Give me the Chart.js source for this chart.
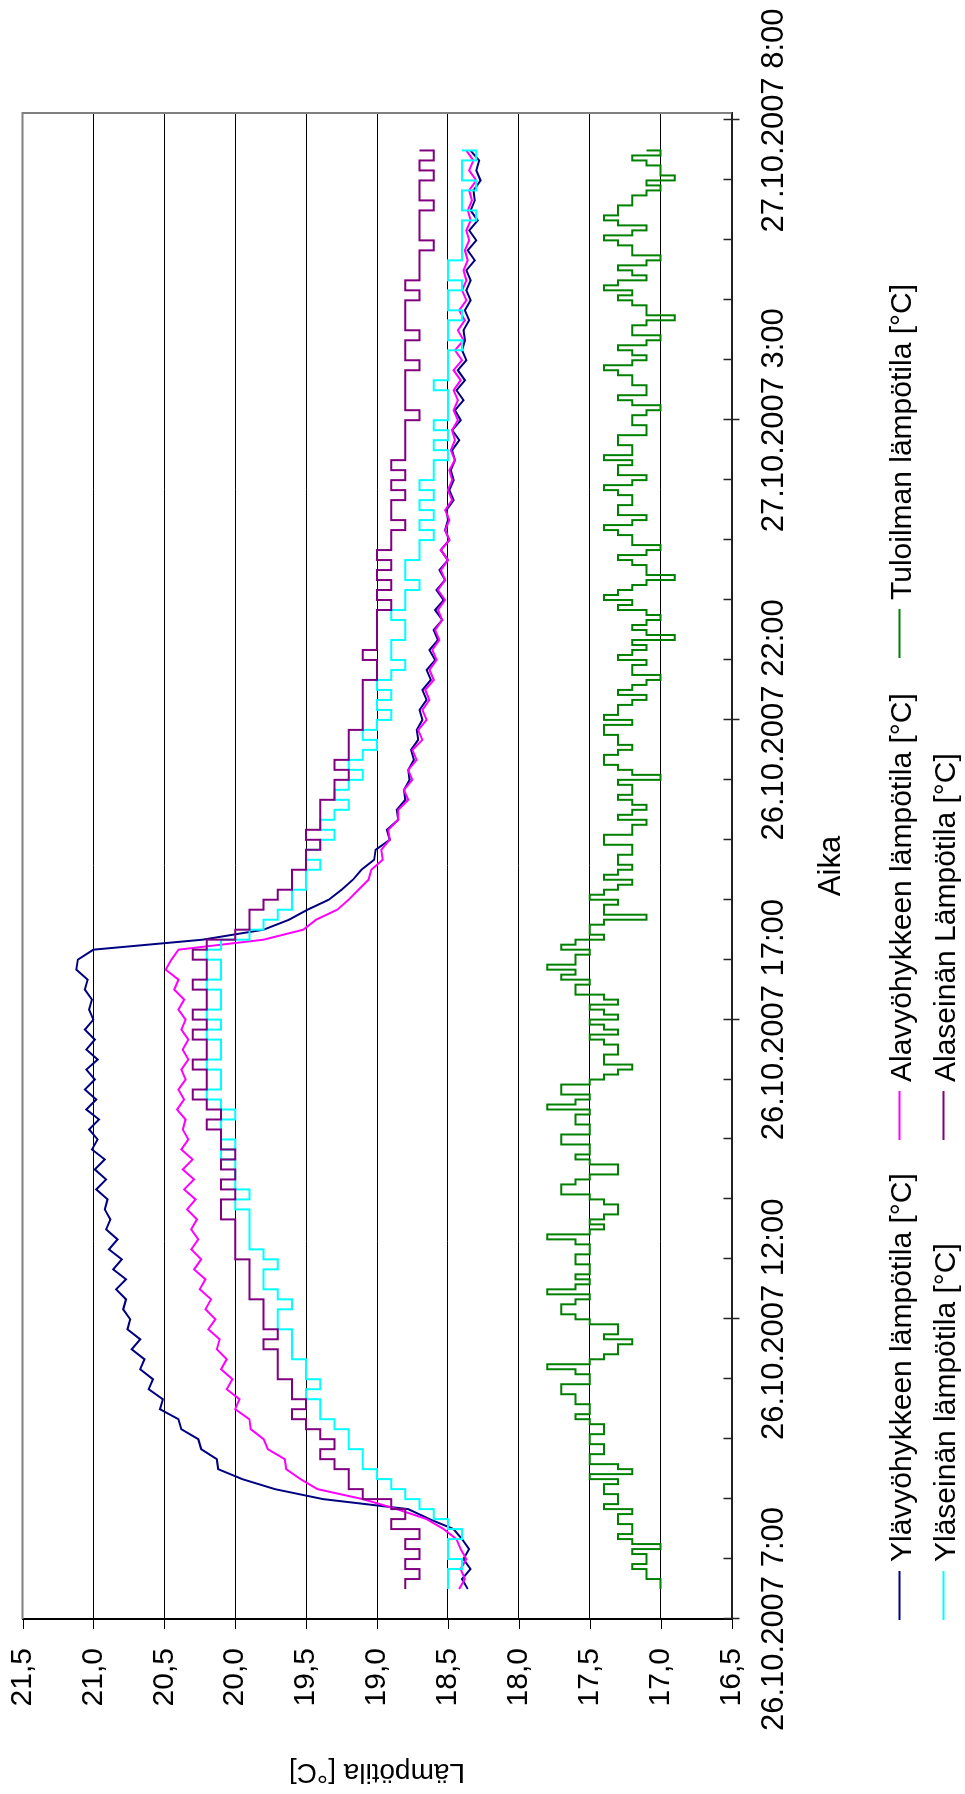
<!DOCTYPE html>
<html>
<head>
<meta charset="utf-8">
<script src="https://cdn.jsdelivr.net/npm/chart.js@4.4.1/dist/chart.umd.min.js"></script>
<style>
html, body { margin: 0; padding: 0; width: 965px; height: 1794px; overflow: hidden; background: #fff; }
/* chart is laid out landscape, then turned a quarter left to stand on the page */
#wrap { position: absolute; left: 0; top: 0; width: 1794px; height: 965px;
        transform-origin: 0 0; transform: translate(0, 1794px) rotate(-90deg); }
</style>
</head>
<body>
<div id="wrap"><canvas id="chart"></canvas></div>
<script>
// hours after 26.10.2007 7:00; readings start at 7:30
const firstHour = 0.5;

const timeLabels = ['26.10.2007 7:00', '26.10.2007 12:00', '26.10.2007 17:00',
                    '26.10.2007 22:00', '27.10.2007 3:00', '27.10.2007 8:00'];

const seriesNames = ['Ylävyöhykkeen lämpötila [°C]', 'Alavyöhykkeen lämpötila [°C]',
                     'Tuloilman lämpötila [°C]', 'Yläseinän lämpötila [°C]', 'Alaseinän Lämpötila [°C]'];
const seriesColors = ['#000080', '#ff00ff', '#008000', '#00ffff', '#800080'];

// every 10 minutes
const ylavyohyke = [
  18.36, 18.40, 18.34, 18.39, 18.35, 18.40,
  18.46, 18.63, 18.78, 19.38, 19.72, 19.95,
  20.12, 20.13, 20.24, 20.26, 20.38, 20.40,
  20.53, 20.51, 20.61, 20.58, 20.67, 20.64,
  20.73, 20.67, 20.76, 20.74, 20.79, 20.77,
  20.84, 20.77, 20.86, 20.80, 20.89, 20.83,
  20.91, 20.88, 20.92, 20.90, 20.98, 20.91,
  20.99, 20.92, 21.01, 20.97, 21.03, 20.96,
  21.05, 20.98, 21.06, 20.99, 21.05, 20.97,
  21.05, 20.99, 21.06, 21.00, 21.03, 21.01,
  21.06, 21.04, 21.12, 21.11, 21.00, 20.23,
  19.80, 19.62, 19.49, 19.34, 19.25, 19.17,
  19.11, 19.02, 19.01, 18.91, 18.93, 18.85,
  18.86, 18.80, 18.81, 18.77, 18.78, 18.74,
  18.76, 18.71, 18.72, 18.68, 18.70, 18.65,
  18.68, 18.62, 18.65, 18.59, 18.63, 18.57,
  18.60, 18.54, 18.59, 18.53, 18.58, 18.52,
  18.56, 18.50, 18.55, 18.49, 18.52, 18.50,
  18.51, 18.46, 18.49, 18.46, 18.48, 18.45,
  18.47, 18.42, 18.47, 18.41, 18.45, 18.39,
  18.44, 18.38, 18.43, 18.37, 18.40, 18.38,
  18.39, 18.35, 18.38, 18.34, 18.37, 18.34,
  18.37, 18.31, 18.36, 18.30, 18.35, 18.29,
  18.34, 18.31, 18.32, 18.27, 18.30, 18.28,
  18.34
];

// every 10 minutes
const alavyohyke = [
  18.42, 18.38, 18.41, 18.37, 18.41, 18.44,
  18.53, 18.65, 18.86, 19.10, 19.42, 19.54,
  19.64, 19.65, 19.77, 19.80, 19.89, 19.90,
  20.00, 19.97, 20.06, 20.02, 20.10, 20.06,
  20.13, 20.11, 20.19, 20.14, 20.21, 20.17,
  20.25, 20.21, 20.29, 20.24, 20.31, 20.26,
  20.31, 20.27, 20.34, 20.28, 20.36, 20.29,
  20.37, 20.30, 20.38, 20.33, 20.37, 20.35,
  20.41, 20.36, 20.40, 20.35, 20.38, 20.33,
  20.37, 20.33, 20.38, 20.35, 20.40, 20.36,
  20.43, 20.40, 20.49, 20.45, 20.40, 19.80,
  19.52, 19.43, 19.28, 19.20, 19.13, 19.06,
  19.04, 18.96, 18.97, 18.91, 18.92, 18.85,
  18.85, 18.78, 18.81, 18.75, 18.78, 18.72,
  18.75, 18.68, 18.71, 18.65, 18.68, 18.63,
  18.66, 18.60, 18.63, 18.58, 18.61, 18.56,
  18.59, 18.54, 18.57, 18.52, 18.57, 18.52,
  18.55, 18.50, 18.55, 18.49, 18.52, 18.49,
  18.52, 18.47, 18.50, 18.47, 18.49, 18.45,
  18.48, 18.45, 18.47, 18.43, 18.46, 18.43,
  18.46, 18.41, 18.46, 18.40, 18.45, 18.39,
  18.43, 18.38, 18.42, 18.37, 18.40, 18.37,
  18.39, 18.36, 18.38, 18.35, 18.37, 18.34,
  18.36, 18.33, 18.35, 18.30, 18.35, 18.32,
  18.37
];

// every 5 minutes
const tuloilma = [
  17.0, 17.0, 17.1, 17.1, 17.2, 17.1, 17.1, 17.2, 17.0, 17.2, 17.3, 17.2,
  17.2, 17.3, 17.3, 17.2, 17.4, 17.3, 17.3, 17.4, 17.4, 17.3, 17.5, 17.2,
  17.3, 17.5, 17.5, 17.4, 17.4, 17.5, 17.5, 17.4, 17.4, 17.5, 17.6, 17.5,
  17.5, 17.6, 17.6, 17.7, 17.7, 17.5, 17.5, 17.6, 17.8, 17.5, 17.4, 17.3,
  17.3, 17.2, 17.4, 17.3, 17.3, 17.5, 17.6, 17.7, 17.7, 17.6, 17.5, 17.8,
  17.6, 17.5, 17.6, 17.5, 17.5, 17.6, 17.6, 17.5, 17.5, 17.6, 17.8, 17.5,
  17.4, 17.5, 17.4, 17.3, 17.3, 17.4, 17.5, 17.7, 17.7, 17.6, 17.5, 17.3,
  17.3, 17.5, 17.6, 17.5, 17.5, 17.7, 17.7, 17.5, 17.5, 17.6, 17.6, 17.5,
  17.8, 17.6, 17.5, 17.7, 17.7, 17.5, 17.4, 17.3, 17.2, 17.4, 17.4, 17.3,
  17.3, 17.4, 17.5, 17.3, 17.4, 17.5, 17.3, 17.4, 17.5, 17.3, 17.4, 17.6,
  17.6, 17.5, 17.7, 17.6, 17.8, 17.6, 17.6, 17.5, 17.7, 17.6, 17.4, 17.5,
  17.5, 17.4, 17.1, 17.4, 17.4, 17.3, 17.5, 17.4, 17.3, 17.2, 17.4, 17.3,
  17.2, 17.3, 17.3, 17.2, 17.2, 17.4, 17.4, 17.2, 17.2, 17.1, 17.3, 17.2,
  17.1, 17.2, 17.3, 17.2, 17.2, 17.3, 17.0, 17.2, 17.3, 17.4, 17.4, 17.3,
  17.2, 17.3, 17.3, 17.4, 17.4, 17.2, 17.4, 17.3, 17.3, 17.2, 17.1, 17.3,
  17.2, 17.1, 17.0, 17.2, 17.2, 17.1, 17.3, 17.2, 17.1, 17.2, 16.9, 17.1,
  17.2, 17.1, 17.0, 17.1, 17.3, 17.2, 17.4, 17.3, 17.2, 17.1, 16.9, 17.1,
  17.1, 17.2, 17.3, 17.1, 17.0, 17.2, 17.2, 17.3, 17.4, 17.2, 17.1, 17.3,
  17.3, 17.2, 17.2, 17.3, 17.4, 17.2, 17.1, 17.3, 17.3, 17.2, 17.4, 17.2,
  17.2, 17.3, 17.3, 17.1, 17.1, 17.2, 17.2, 17.1, 17.0, 17.2, 17.3, 17.1,
  17.1, 17.2, 17.2, 17.3, 17.4, 17.2, 17.1, 17.2, 17.3, 17.1, 17.0, 17.2,
  17.2, 17.1, 16.9, 17.1, 17.1, 17.2, 17.3, 17.2, 17.4, 17.3, 17.1, 17.2,
  17.3, 17.1, 17.0, 17.2, 17.2, 17.3, 17.4, 17.2, 17.1, 17.3, 17.4, 17.3,
  17.3, 17.2, 17.2, 17.1, 17.0, 17.1, 16.9, 17.0, 17.0, 17.1, 17.2, 17.0,
  17.1
];

// every 10 minutes
const ylaseina = [
  18.5, 18.5, 18.4, 18.5, 18.5, 18.4,
  18.5, 18.6, 18.7, 18.8, 18.9, 19.0,
  19.1, 19.1, 19.2, 19.2, 19.3, 19.4,
  19.4, 19.5, 19.4, 19.5, 19.5, 19.6,
  19.6, 19.6, 19.7, 19.7, 19.6, 19.7,
  19.8, 19.8, 19.7, 19.8, 19.9, 19.9,
  19.9, 19.9, 20.0, 19.9, 20.0, 20.0,
  20.0, 20.1, 20.0, 20.1, 20.1, 20.0,
  20.1, 20.2, 20.1, 20.1, 20.2, 20.1,
  20.1, 20.2, 20.1, 20.2, 20.1, 20.1,
  20.2, 20.1, 20.1, 20.2, 20.1, 19.9,
  19.8, 19.7, 19.6, 19.6, 19.5, 19.5,
  19.4, 19.5, 19.4, 19.3, 19.4, 19.3,
  19.2, 19.3, 19.2, 19.1, 19.2, 19.1,
  19.0, 19.1, 19.0, 18.9, 19.0, 18.9,
  19.0, 18.9, 18.8, 18.9, 18.9, 18.8,
  18.8, 18.9, 18.8, 18.8, 18.7, 18.8,
  18.8, 18.7, 18.7, 18.6, 18.7, 18.6,
  18.7, 18.6, 18.7, 18.6, 18.6, 18.5,
  18.6, 18.5, 18.6, 18.5, 18.5, 18.5,
  18.6, 18.5, 18.5, 18.5, 18.4, 18.5,
  18.5, 18.4, 18.5, 18.5, 18.4, 18.5,
  18.5, 18.4, 18.4, 18.4, 18.4, 18.3,
  18.4, 18.4, 18.3, 18.4, 18.4, 18.3,
  18.4
];

// every 10 minutes
const alaseina = [
  18.8, 18.7, 18.8, 18.7, 18.8, 18.7,
  18.9, 18.8, 18.9, 19.1, 19.2, 19.2,
  19.3, 19.4, 19.3, 19.4, 19.5, 19.6,
  19.5, 19.6, 19.6, 19.7, 19.7, 19.7,
  19.8, 19.7, 19.8, 19.8, 19.8, 19.9,
  19.9, 19.9, 19.9, 20.0, 20.0, 20.0,
  20.0, 20.1, 20.1, 20.0, 20.1, 20.0,
  20.1, 20.0, 20.1, 20.1, 20.2, 20.1,
  20.2, 20.3, 20.2, 20.2, 20.3, 20.2,
  20.2, 20.3, 20.2, 20.3, 20.2, 20.2,
  20.3, 20.2, 20.2, 20.3, 20.2, 20.0,
  19.9, 19.9, 19.8, 19.7, 19.6, 19.6,
  19.5, 19.5, 19.4, 19.5, 19.4, 19.4,
  19.4, 19.3, 19.3, 19.2, 19.3, 19.2,
  19.2, 19.2, 19.1, 19.1, 19.1, 19.1,
  19.1, 19.0, 19.0, 19.1, 19.0, 19.0,
  19.0, 19.0, 18.9, 19.0, 18.9, 19.0,
  18.9, 19.0, 18.9, 18.9, 18.8, 18.9,
  18.9, 18.8, 18.9, 18.8, 18.9, 18.8,
  18.8, 18.8, 18.8, 18.7, 18.8, 18.8,
  18.8, 18.8, 18.7, 18.8, 18.8, 18.7,
  18.8, 18.8, 18.8, 18.7, 18.8, 18.7,
  18.7, 18.7, 18.6, 18.7, 18.7, 18.7,
  18.6, 18.7, 18.7, 18.6, 18.7, 18.6,
  18.7
];

const seriesValues = [ylavyohyke, alavyohyke, tuloilma, ylaseina, alaseina];
const seriesStepHours = [1 / 6, 1 / 6, 1 / 12, 1 / 6, 1 / 6];
const steppedSeries = [false, false, true, true, true];

const fontFamily = '"Liberation Sans", Arial, sans-serif';
Chart.defaults.font.family = fontFamily;
Chart.defaults.color = '#000';

// grey plot frame, axis tick marks and the two-row legend under the axis
const framePlugin = {
  id: 'framePlugin',
  beforeDatasetsDraw(chart) {
    const ctx = chart.ctx;
    const a = chart.chartArea;
    const xs = chart.scales.x;
    const ys = chart.scales.y;
    ctx.save();
    ctx.strokeStyle = '#808080';
    ctx.lineWidth = 2;
    ctx.beginPath();
    ctx.moveTo(a.left, a.top);
    ctx.lineTo(a.right, a.top);
    ctx.lineTo(a.right, a.bottom);
    ctx.stroke();

    ctx.strokeStyle = '#222';
    ctx.lineWidth = 1.5;
    for (let h = 0; h <= 25; h++) {
      const px = Math.round(xs.getPixelForValue(h)) + 0.5;
      ctx.beginPath();
      ctx.moveTo(px, a.bottom - 8);
      ctx.lineTo(px, a.bottom + (h % 5 === 0 ? 8 : 0));
      ctx.stroke();
    }
    ctx.strokeStyle = '#000';
    ctx.lineWidth = 1;
    ys.ticks.forEach((t) => {
      const py = Math.round(ys.getPixelForValue(t.value)) + 0.5;
      ctx.beginPath();
      ctx.moveTo(a.left - 10, py);
      ctx.lineTo(a.left, py);
      ctx.stroke();
    });
    ctx.restore();
  },
  afterDraw(chart) {
    const ctx = chart.ctx;
    const cols = [174, 654, 1136];
    const rows = [899, 943];
    ctx.save();
    ctx.font = '30px ' + fontFamily;
    ctx.textBaseline = 'alphabetic';
    ctx.textAlign = 'left';
    seriesNames.forEach((name, i) => {
      const x = cols[i % 3];
      const y = rows[Math.floor(i / 3)];
      ctx.strokeStyle = seriesColors[i];
      ctx.lineWidth = 2;
      ctx.beginPath();
      ctx.moveTo(x, y + 0.5);
      ctx.lineTo(x + 49, y + 0.5);
      ctx.stroke();
      ctx.fillStyle = '#000';
      ctx.fillText(name, x + 58, y + 12);
    });
    ctx.restore();
  }
};

new Chart(document.getElementById('chart'), {
  type: 'line',
  data: {
    datasets: seriesNames.map((name, i) => ({
      label: name,
      data: seriesValues[i].map((v, j) => ({ x: firstHour + j * seriesStepHours[i], y: v })),
      borderColor: seriesColors[i],
      backgroundColor: seriesColors[i],
      borderWidth: 2,
      pointRadius: 0,
      tension: 0,
      stepped: steppedSeries[i],
      order: seriesNames.length - i
    }))
  },
  options: {
    responsive: true,
    maintainAspectRatio: false,
    animation: false,
    events: [],
    layout: { padding: { left: 0, top: 22.5, right: 113, bottom: 0 } },
    plugins: {
      legend: { display: false },
      tooltip: { enabled: false }
    },
    scales: {
      x: {
        type: 'linear',
        min: 0,
        max: 25.125,
        afterFit: (scale) => { scale.height = 233.5; },
        ticks: {
          stepSize: 5,
          includeBounds: false,
          autoSkip: false,
          maxRotation: 0,
          minRotation: 0,
          padding: 0,
          font: { size: 31 },
          callback: (v) => timeLabels[v / 5] || ''
        },
        grid: { drawOnChartArea: false, drawTicks: true, tickLength: 24, tickColor: 'rgba(0,0,0,0)' },
        border: { color: '#222', width: 2 },
        title: { display: true, text: 'Aika', font: { size: 31 }, padding: { top: 0, bottom: 115 } }
      },
      y: {
        min: 16.5,
        max: 21.5,
        afterFit: (scale) => { scale.width = 175; },
        ticks: {
          stepSize: 0.5,
          padding: 0,
          font: { size: 30 },
          callback: (v) => v.toFixed(1).replace('.', ',')
        },
        grid: { color: '#000', lineWidth: 1, drawTicks: true, tickLength: 29, tickColor: 'rgba(0,0,0,0)' },
        border: { color: '#000', width: 2 },
        title: { display: true, text: 'Lämpötila [°C]', font: { size: 28 }, padding: { top: 5, bottom: 0 } }
      }
    }
  },
  plugins: [framePlugin]
});
</script>
</body>
</html>
